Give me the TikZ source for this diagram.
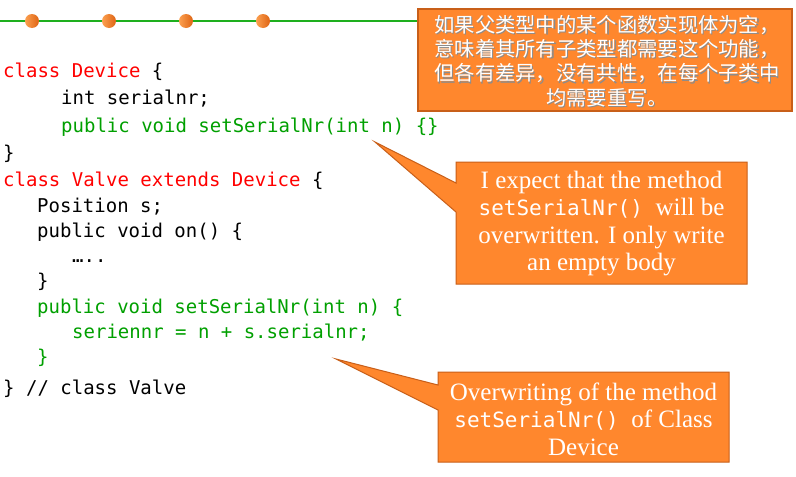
\documentclass[tikz,border=0pt]{standalone}
\usepackage{fontspec}
\newfontfamily\codefont{DejaVu Sans Mono}
\newfontfamily\cjk{Noto Sans CJK SC}
\newfontfamily\notefont{Liberation Serif}
\definecolor{codered}{RGB}{255,0,0}
\definecolor{codegreen}{RGB}{0,160,0}
\definecolor{boxfill}{RGB}{255,135,45}
\definecolor{boxline}{RGB}{200,95,25}
\definecolor{rulegreen}{RGB}{30,175,30}
\definecolor{dotlight}{RGB}{252,160,80}
\definecolor{dotdark}{RGB}{222,100,20}
\tikzset{
  codeline/.style={anchor=base west, inner sep=0pt, font=\codefont\fontsize{19}{23}\selectfont},
  calloutshape/.style={fill=boxfill, draw=boxline, line width=1pt, line join=miter},
  callouttext/.style={text=white, align=center, inner sep=0pt, font=\notefont\fontsize{25}{27.5}\selectfont},
  notetext/.style={align=center, inner sep=0pt, font=\cjk\fontsize{20.3}{24.3}\selectfont},
  dot/.style={circle, minimum size=14pt, inner sep=0pt, left color=dotlight, right color=dotdark},
}
\newcommand\calloutcode[1]{{\codefont\fontsize{21}{27.5}\selectfont #1}}
\begin{document}
\begin{tikzpicture}[x=1pt,y=-1pt]
\useasboundingbox[fill=white] (0,0) rectangle (796,477);
% top rule with dots
\coordinate (rulestart) at (0,21);
\coordinate (ruleend) at (418,21);
\draw[rulegreen, line width=1.5pt] (rulestart) -- (ruleend);
\node[dot] (d1) at (32,21) {};
\node[dot] (d2) at (109,21) {};
\node[dot] (d3) at (186,21) {};
\node[dot] (d4) at (263,21) {};
% top note box
\draw[calloutshape, line width=1.5pt] (418,9) rectangle (792,111);
\node[notetext, text=black!45] (noteshadow) at (608.2,62.2) {如果父类型中的某个函数实现体为空，\\意味着其所有子类型都需要这个功能，\\但各有差异，没有共性，在每个子类中\\均需要重写。};
\node[notetext, text=white] (note) at (607,61) {如果父类型中的某个函数实现体为空，\\意味着其所有子类型都需要这个功能，\\但各有差异，没有共性，在每个子类中\\均需要重写。};
% code
\node[codeline] (l1) at (3,77) {\textcolor{codered}{class Device} \{};
\node[codeline] (l2) at (61,104) {int serialnr;};
\node[codeline, text=codegreen] (l3) at (61,132) {public void setSerialNr(int n) \{\}};
\node[codeline] (l4) at (3,159) {\}};
\node[codeline] (l5) at (3,186) {\textcolor{codered}{class Valve extends Device} \{};
\node[codeline] (l6) at (37,212) {Position s;};
\node[codeline] (l7) at (37,237) {public void on() \{};
\node[codeline] (l8) at (72,262) {…..};
\node[codeline] (l9) at (37,287) {\}};
\node[codeline, text=codegreen] (l10) at (37,313) {public void setSerialNr(int n) \{};
\node[codeline, text=codegreen] (l11) at (72,338) {seriennr = n + s.serialnr;};
\node[codeline, text=codegreen] (l12) at (37,363) {\}};
\node[codeline] (l13) at (3,394) {\} // class Valve};
% callout 1
\coordinate (tip1) at (375,142);
\draw[calloutshape] (456,162) -- (747,162) -- (747,284) -- (456,284) -- (456,212) -- (tip1) -- (456,183) -- cycle;
\node[callouttext] (c1) at (601.5,223.5) {I expect that the method\\\calloutcode{setSerialNr() }will be\\overwritten. I only write\\an empty body};
% callout 2
\coordinate (tip2) at (336,359);
\draw[calloutshape] (438,372) -- (729,372) -- (729,462) -- (438,462) -- (438,410) -- (tip2) -- (438,385) -- cycle;
\node[callouttext] (c2) at (583.5,419) {Overwriting of the method\\\calloutcode{setSerialNr() }of Class\\Device};
\end{tikzpicture}
\end{document}
